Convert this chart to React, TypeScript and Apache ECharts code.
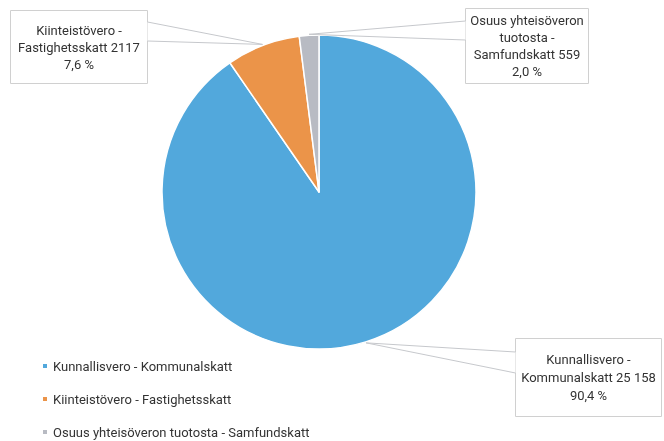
import React, { useEffect, useRef } from "react";
import * as echarts from "echarts";

const categories = [
  "Kunnallisvero - Kommunalskatt",
  "Kiinteistövero - Fastighetsskatt",
  "Osuus yhteisöveron tuotosta - Samfundskatt",
];
const values = [25158, 2117, 559];
const valueLabels = ["25 158", "2117", "559"];
const calloutNames = [
  ["Kunnallisvero -", "Kommunalskatt"],
  ["Kiinteistövero -", "Fastighetsskatt"],
  ["Osuus yhteisöveron", "tuotosta -", "Samfundskatt"],
];
const colors = ["#52A8DC", "#EB9449", "#B8BBC3"];

// callout box layout: x, y, w, h, base edge x, base y1, base y2, line height
const boxes = [
  { x: 515, y: 338, w: 146, h: 78, bx: 515, by1: 352, by2: 373, lh: 18 },
  { x: 10, y: 10, w: 137, h: 73, bx: 147, by1: 22, by2: 41, lh: 17 },
  { x: 465, y: 8, w: 123, h: 75, bx: 465, by1: 21, by2: 40, lh: 16.7 },
];

const CX = 319;
const CY = 192;
const R = 157;
const FONT = "Roboto";

export default function App() {
  const ref = useRef<HTMLDivElement>(null);
  useEffect(() => {
    if (!ref.current) return;
    const chart = echarts.init(ref.current, undefined, { renderer: "svg" });
    const total = values.reduce((a, b) => a + b, 0);
    let cum = 0;
    const graphics: any[] = [];
    values.forEach((v, i) => {
      const mid = (cum + v / 2) / total;
      cum += v;
      const th = mid * Math.PI * 2;
      const tx = CX + (R + 1) * Math.sin(th);
      const ty = CY - (R + 1) * Math.cos(th);
      const b = boxes[i];
      const pct = ((v / total) * 100).toFixed(1).replace(".", ",") + " %";
      const lines = [...calloutNames[i]];
      lines[lines.length - 1] = lines[lines.length - 1] + " " + valueLabels[i];
      lines.push(pct);
      graphics.push({
        type: "rect",
        shape: { x: b.x + 0.5, y: b.y + 0.5, width: b.w, height: b.h },
        style: { fill: "#fff", stroke: "#D0D0D0", lineWidth: 1 },
        z: 10,
      });
      graphics.push({
        type: "polygon",
        shape: { points: [[b.bx + 0.5, b.by1], [tx, ty], [b.bx + 0.5, b.by2]] },
        style: { fill: "#fff", stroke: null },
        z: 11,
      });
      graphics.push({
        type: "polyline",
        shape: { points: [[b.bx + 0.5, b.by1], [tx, ty], [b.bx + 0.5, b.by2]] },
        style: { fill: null, stroke: "#C6C8CC", lineWidth: 1 },
        z: 12,
      });
      graphics.push({
        type: "text",
        x: b.x + b.w / 2 + 0.5,
        y: b.y + b.h / 2 + 0.5,
        style: {
          text: lines.join("\n"),
          fontFamily: FONT,
          fontSize: 13,
          lineHeight: b.lh,
          fill: "#333",
          align: "center",
          verticalAlign: "middle",
        },
        z: 13,
      });
    });

    chart.setOption({
      animation: false,
      color: colors,
      legend: {
        orient: "vertical",
        left: 41,
        top: 358,
        height: 84,
        padding: 0,
        itemWidth: 6,
        itemHeight: 6,
        itemGap: 17,
        icon: "rect",
        textStyle: { fontFamily: FONT, fontSize: 13, color: "#333", lineHeight: 16 },
        data: categories,
      },
      graphic: graphics,
      series: [
        {
          type: "pie",
          center: [CX, CY],
          radius: R,
          startAngle: 90,
          clockwise: true,
          label: { show: false },
          labelLine: { show: false },
          itemStyle: { borderColor: "#fff", borderWidth: 1.5 },
          emphasis: { disabled: true },
          data: categories.map((c, i) => ({ name: c, value: values[i] })),
        },
      ],
    });
    return () => chart.dispose();
  }, []);
  return (
    <div
      ref={ref}
      style={{ position: "fixed", left: 0, top: 0, width: 664, height: 441 }}
    />
  );
}
